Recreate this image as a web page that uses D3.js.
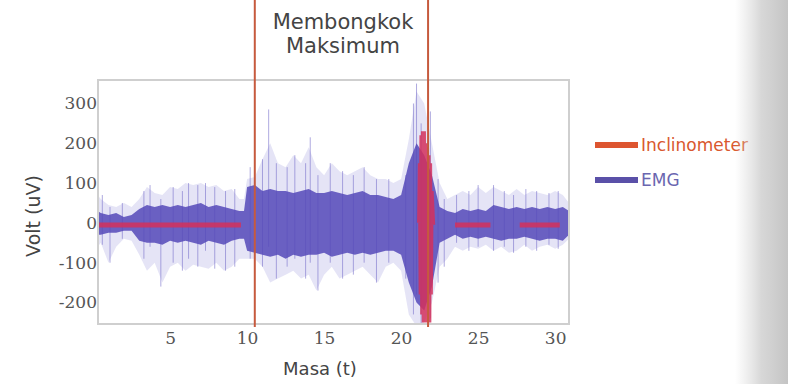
<!DOCTYPE html>
<html>
<head>
<meta charset="utf-8">
<script src="https://cdn.jsdelivr.net/npm/d3@7"></script>
<style>
    body { margin: 0; background: #fff; }
    svg { display: block; }
    .tick text { font-family: "DejaVu Serif", serif; font-size: 17px; fill: #555; }
    .judul { font-family: "DejaVu Sans", sans-serif; fill: #444; }
</style>
</head>
<body>
<svg width="788" height="384"></svg>
<script>
    // masa (s) untuk sampul EMG
    var emgT = [0.3, 0.5, 1, 1.5, 2, 2.5, 3, 3.5, 4, 4.5, 5, 5.5, 6, 6.5, 7, 7.5, 8, 8.5, 9, 9.5, 9.8,
        10, 10.5, 11, 11.5, 12, 12.5, 13, 13.5, 14, 14.5, 15, 15.5, 16, 16.5, 17, 17.5, 18, 18.5, 19, 19.5,
        20, 20.5, 21, 21.5, 22, 22.5, 23, 23.5, 24, 24.5, 25, 25.5, 26, 26.5, 27, 27.5, 28, 28.5, 29, 29.5,
        30, 30.5, 30.9];
    var emgCoreHi = [30, 25, 20, 25, 15, 20, 35, 45, 40, 45, 40, 45, 40, 45, 50, 40, 45, 40, 35, 30, 30,
        90, 95, 80, 85, 80, 80, 75, 80, 85, 75, 75, 80, 75, 70, 75, 80, 70, 70, 65, 60,
        70, 150, 200, 170, 120, 40, 30, 25, 35, 30, 35, 30, 45, 40, 35, 40, 35, 40, 35, 40,
        35, 40, 30];
    var emgCoreLo = [-30, -30, -25, -25, -20, -20, -45, -50, -50, -55, -45, -50, -45, -50, -55, -45, -50, -55, -45, -40, -40,
        -70, -75, -80, -85, -80, -90, -80, -85, -80, -80, -75, -85, -80, -75, -80, -75, -80, -75, -70, -70,
        -80, -150, -200, -220, -160, -50, -40, -30, -40, -35, -40, -35, -40, -45, -40, -40, -35, -40, -45, -40,
        -40, -45, -30];
    var emgOuterHi = [70, 60, 45, 40, 50, 40, 60, 90, 75, 70, 90, 85, 100, 95, 100, 90, 95, 80, 85, 60, 60,
        110, 115, 160, 200, 150, 140, 170, 150, 190, 140, 120, 150, 130, 120, 130, 140, 120, 110, 110, 100,
        110, 210, 330, 300, 200, 100, 60, 70, 80, 70, 90, 75, 90, 80, 70, 85, 70, 80, 75, 70,
        80, 70, 50];
    var emgOuterLo = [-60, -50, -100, -60, -40, -45, -80, -120, -100, -150, -110, -100, -120, -105, -110, -115, -100, -120, -110, -90, -90,
        -90, -90, -110, -150, -140, -130, -120, -140, -130, -170, -130, -110, -140, -130, -120, -110, -130, -150, -110, -100,
        -120, -230, -260, -250, -200, -110, -90, -60, -70, -60, -65, -55, -70, -60, -75, -70, -55, -70, -60, -55,
        -65, -55, -40];
    // lonjakan EMG yang menonjol: [masa, atas, bawah]
    var emgSpikes = [[0.6, 70, -55], [1.1, 40, -100], [1.9, 50, -40], [3.3, 80, -90], [3.7, 95, -60], [4.4, 60, -160],
        [5.2, 90, -100], [5.8, 80, -120], [6.2, 100, -90], [6.8, 95, -110], [7.3, 100, -70], [7.9, 90, -115],
        [8.6, 80, -120], [9.2, 85, -110], [10.2, 140, -90], [11.0, 160, -110], [11.4, 285, -60], [11.9, 150, -140],
        [12.6, 140, -110], [13.1, 170, -90], [13.8, 150, -140], [14.1, 215, -100], [14.6, 120, -170], [15.4, 150, -100],
        [16.2, 130, -140], [16.9, 120, -130], [17.6, 140, -100], [18.4, 110, -150], [19.2, 110, -100], [20.3, 120, -140],
        [20.8, 300, -230], [21.0, 350, -180], [21.3, 250, -260], [21.9, 280, -240], [22.4, 110, -150], [22.8, 60, -110],
        [23.6, 70, -50], [24.4, 80, -70], [25.0, 95, -60], [26.0, 95, -70], [26.7, 80, -60], [27.3, 70, -75],
        [28.1, 85, -60], [28.8, 80, -70], [29.6, 75, -55], [30.2, 80, -65]];

    // inclinometer (null = tertutup EMG)
    var incT = [0.3, 3, 6, 9.6, 9.7, 21.2, 21.25, 21.3, 21.35, 21.4, 21.45, 21.5, 21.55, 21.6, 21.65, 21.7,
        21.75, 21.8, 21.85, 21.9, 21.95, 22.05, 22.1, 23.5, 25.8, 25.9, 27.7, 30.3];
    var incV = [-5, -5, -5, -5, null, 0, 150, -180, 220, -230, 230, -250, 200, -240, 190, -220,
        170, -250, 150, -180, 80, -5, null, -5, -5, null, -5, -5];

    var peristiwa = [10.5, 21.75];
    var xTicks = [5, 10, 15, 20, 25, 30];
    var yTicks = [300, 200, 100, 0, -100, -200];
    var legenda = [["Inclinometer", "#dd5530", "#d9582e"], ["EMG", "#5a50a8", "#6a66b0"]];

    var svg = d3.select("svg");
    var kiri = 98, kanan = 569, atas = 80, bawah = 324;

    var x = d3.scaleLinear().domain([0.32, 30.9]).range([kiri, kanan]);
    var y = d3.scaleLinear().domain([-254, 359]).range([bawah, atas]);

    var defs = svg.append("defs");
    defs.append("clipPath").attr("id", "plot")
        .append("rect").attr("x", kiri).attr("y", atas).attr("width", kanan - kiri).attr("height", bawah - atas);

    var plot = svg.append("g").attr("clip-path", "url(#plot)");

    var emg = emgT.map(function (t, i) {
        return { t: t, ch: emgCoreHi[i], cl: emgCoreLo[i], oh: emgOuterHi[i], ol: emgOuterLo[i] };
    });

    plot.append("path")
        .datum(emg)
        .attr("fill", "#aaa5e2")
        .attr("opacity", 0.3)
        .attr("d", d3.area().x(function (d) { return x(d.t); })
            .y0(function (d) { return y(d.ol); }).y1(function (d) { return y(d.oh); }));

    plot.selectAll("line.spike")
        .data(emgSpikes)
        .enter().append("line")
        .attr("class", "spike")
        .attr("x1", function (d) { return x(d[0]); })
        .attr("x2", function (d) { return x(d[0]); })
        .attr("y1", function (d) { return y(d[1]); })
        .attr("y2", function (d) { return y(d[2]); })
        .attr("stroke", "#7a72cc")
        .attr("stroke-width", 1)
        .attr("opacity", 0.6);

    plot.append("path")
        .datum(emg)
        .attr("fill", "#5549b8")
        .attr("opacity", 0.85)
        .attr("d", d3.area().x(function (d) { return x(d.t); })
            .y0(function (d) { return y(d.cl); }).y1(function (d) { return y(d.ch); }));

    var inc = incT.map(function (t, i) { return { t: t, v: incV[i] }; });
    plot.append("path")
        .datum(inc)
        .attr("fill", "none")
        .attr("stroke", "#d4305c")
        .attr("stroke-width", 5)
        .attr("opacity", 0.85)
        .attr("d", d3.line().defined(function (d) { return d.v !== null; })
            .x(function (d) { return x(d.t); }).y(function (d) { return y(d.v); }));

    // bingkai
    svg.append("rect")
        .attr("x", kiri).attr("y", atas).attr("width", kanan - kiri).attr("height", bawah - atas)
        .attr("fill", "none").attr("stroke", "#cfcfcf").attr("stroke-width", 2);

    // garis peristiwa
    svg.selectAll("line.peristiwa")
        .data(peristiwa)
        .enter().append("line")
        .attr("class", "peristiwa")
        .attr("x1", function (d) { return x(d); })
        .attr("x2", function (d) { return x(d); })
        .attr("y1", 0).attr("y2", bawah + 3)
        .attr("stroke", "#c65a3e")
        .attr("stroke-width", 2);

    var xAxis = svg.append("g")
        .attr("transform", "translate(0," + bawah + ")")
        .call(d3.axisBottom(x).tickValues(xTicks).tickSize(0).tickPadding(8));
    xAxis.select(".domain").remove();

    var yAxis = svg.append("g")
        .attr("transform", "translate(" + (kiri + 1) + ",0)")
        .call(d3.axisLeft(y).tickValues(yTicks).tickSize(0).tickPadding(2)
            .tickFormat(function (d) { return String(d); }));
    yAxis.select(".domain").remove();

    svg.append("text").attr("class", "judul")
        .attr("x", 320).attr("y", 375).attr("text-anchor", "middle")
        .attr("font-size", 18).text("Masa (t)");

    svg.append("text").attr("class", "judul")
        .attr("transform", "translate(40,216) rotate(-90)")
        .attr("text-anchor", "middle")
        .attr("font-size", 19).text("Volt (uV)");

    var judul = svg.append("text").attr("class", "judul")
        .attr("text-anchor", "middle").attr("font-size", 21);
    judul.append("tspan").attr("x", 343).attr("y", 29).text("Membongkok");
    judul.append("tspan").attr("x", 343).attr("y", 53).text("Maksimum");

    var leg = svg.selectAll("g.leg")
        .data(legenda)
        .enter().append("g")
        .attr("class", "leg")
        .attr("transform", function (d, i) { return "translate(595," + (145 + i * 35) + ")"; });
    leg.append("rect").attr("x", 0).attr("y", -3).attr("width", 43).attr("height", 6)
        .attr("fill", function (d) { return d[1]; });
    leg.append("text").attr("x", 46).attr("dy", "0.35em")
        .attr("font-family", "DejaVu Sans, sans-serif").attr("font-size", 17)
        .attr("fill", function (d) { return d[2]; })
        .text(function (d) { return d[0]; });

    // bayangan di tepi kanan halaman
    var grad = defs.append("linearGradient").attr("id", "tepi");
    grad.append("stop").attr("offset", "0").attr("stop-color", "#d8d8d8").attr("stop-opacity", 0);
    grad.append("stop").attr("offset", "0.5").attr("stop-color", "#d0d0d0").attr("stop-opacity", 0.85);
    grad.append("stop").attr("offset", "1").attr("stop-color", "#c4c4c4").attr("stop-opacity", 1);
    svg.append("rect").attr("x", 735).attr("y", 0).attr("width", 53).attr("height", 384)
        .attr("fill", "url(#tepi)");
</script>
</body>
</html>
